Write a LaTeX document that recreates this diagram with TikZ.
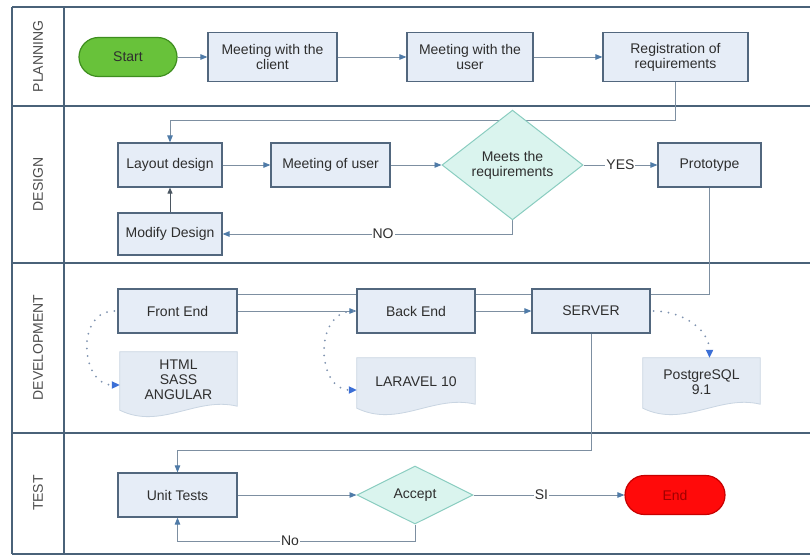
\documentclass[tikz,border=0pt]{standalone}
\usepackage{fontspec}
\setmainfont{Liberation Sans}
\usetikzlibrary{shapes.geometric,arrows.meta,calc,backgrounds}

\definecolor{boxfill}{HTML}{E6EDF7}
\definecolor{boxline}{HTML}{52677E}
\definecolor{flowline}{HTML}{7D8FA1}
\definecolor{arrowblue}{HTML}{4F7BA8}
\definecolor{lanecol}{HTML}{4A6279}
\definecolor{decfill}{HTML}{DAF4EE}
\definecolor{decline}{HTML}{8ACDC0}
\definecolor{docfill}{HTML}{E4EBF4}
\definecolor{docline}{HTML}{C9D5E2}
\definecolor{dotblue}{HTML}{3C6FD6}
\definecolor{dotgray}{HTML}{7F93B0}
\definecolor{startfill}{HTML}{68C23A}
\definecolor{startline}{HTML}{3E8E1E}
\definecolor{endfill}{HTML}{FF0A0A}
\definecolor{endline}{HTML}{C80000}
\definecolor{inkgray}{HTML}{2E2E2E}

\tikzset{
  lanerule/.style={draw=lanecol, line width=2pt},
  lanelabel/.style={rotate=90, text=inkgray!85, inner sep=0pt},
  procbox/.style={rectangle, draw=boxline, line width=1.2pt, fill=boxfill,
    align=center, inner sep=2pt, text=inkgray, minimum height=44pt},
  decision/.style={diamond, draw=decline, line width=1pt, fill=decfill,
    align=center, inner sep=0pt, text=inkgray},
  terminal/.style={rectangle, rounded corners=19.5pt, line width=1.2pt,
    minimum width=98pt, minimum height=39pt},
  docbody/.style={rectangle, align=center, inner sep=0pt, text=inkgray},
  docshape/.style={fill=docfill, draw=docline, line width=0.8pt},
  flow/.style={draw=flowline, line width=0.9pt,
    -{Triangle[length=7pt,width=5.5pt,color=arrowblue]}},
  plainflow/.style={draw=flowline, line width=0.9pt},
  dotflow/.style={draw=dotgray, line width=2pt, line cap=round,
    dash pattern=on 0pt off 7.5pt,
    -{Triangle[length=8pt,width=7pt,color=dotblue]}},
  tag/.style={fill=white, inner sep=1pt, text=inkgray}
}

\begin{document}
\begin{tikzpicture}[x=1pt,y=-1pt,font=\fontsize{14}{15}\selectfont]
\useasboundingbox (0,0) rectangle (810,556);

% ---- nodes: planning lane ----
\node[terminal, fill=startfill, draw=startline, text=inkgray] (start) at (128,57) {Start};
\node[procbox, minimum width=129pt, minimum height=49pt] (client) at (272.5,57) {Meeting with the\\client};
\node[procbox, minimum width=126pt, minimum height=49pt] (user) at (470,57) {Meeting with the\\user};
\node[procbox, minimum width=145pt, minimum height=49pt] (reg) at (675.5,57) {Registration of\\requirements};

% ---- nodes: design lane ----
\node[procbox, minimum width=104pt] (lay) at (170,165) {Layout design};
\node[procbox, minimum width=119pt] (mou) at (330.5,165) {Meeting of user};
\node[decision, minimum width=141pt, minimum height=80pt] (meets) at (512.5,165) {Meets the\\requirements};
\node[procbox, minimum width=103pt] (proto) at (709.5,165) {Prototype};
\node[procbox, minimum width=104pt, minimum height=42pt] (mod) at (170,234) {Modify Design};

% ---- nodes: development lane ----
\node[procbox, minimum width=119pt] (fe) at (177.5,311) {Front End};
\node[procbox, minimum width=118pt] (be) at (416,311) {Back End};
\node[procbox, minimum width=118pt] (srv) at (591,311) {SERVER};
\node[docbody, minimum width=117pt, minimum height=56pt] (html) at (178.5,380) {HTML\\SASS\\ANGULAR};
\node[docbody, minimum width=118pt, minimum height=48pt] (lara) at (416,382) {LARAVEL 10};
\node[docbody, minimum width=117pt, minimum height=48pt] (pg) at (701.5,382) {PostgreSQL\\9.1};

% ---- nodes: test lane ----
\node[procbox, minimum width=119pt] (ut) at (177.5,495) {Unit Tests};
\node[decision, minimum width=116pt, minimum height=58pt] (acc) at (415,495) {Accept};
\node[terminal, minimum width=100pt, fill=endfill, draw=endline, text=endline!80!black] (fin) at (675,495) {End};

\begin{pgfonlayer}{background}
  \fill[white] (0,0) rectangle (810,556);

  % swimlane frame
  \draw[lanerule] (12,7) -- (810,7);
  \draw[lanerule] (12,106.5) -- (810,106.5);
  \draw[lanerule] (12,262.5) -- (810,262.5);
  \draw[lanerule] (12,432.5) -- (810,432.5);
  \draw[lanerule] (12,554) -- (810,554);
  \draw[lanerule] (12,7) -- (12,554);
  \draw[lanerule] (64,7) -- (64,554);

  % document shapes with wavy lower edge
  \foreach \d in {html,lara,pg}{
    \path[docshape] (\d.north west) -- (\d.north east) -- ($(\d.south east)+(0,-2)$)
      .. controls ($(\d.south east)!0.35!(\d.south west)+(0,-12)$)
      and ($(\d.south east)!0.65!(\d.south west)+(0,22)$) .. ($(\d.south west)+(0,2)$)
      -- cycle;
  }

  % connectors
  \draw[flow] (start) -- (client);
  \draw[flow] (client) -- (user);
  \draw[flow] (user) -- (reg);
  \draw[flow] (reg.south) -- ++(0,38) -| (lay.north);
  \draw[flow] (lay) -- (mou);
  \draw[flow] (mou) -- (meets);
  \draw[flow] (meets) -- node[tag]{YES} (proto);
  \draw[flow] (meets.south) |- (mod.east);
  \node[tag] (nolbl) at (383,234) {NO};
  \draw[draw=flowline!60!black, line width=0.9pt, -{Triangle[length=6pt,width=5pt]}] (mod) -- (lay);

  \draw[plainflow] (proto.south) |- ($(fe.north east)+(0,6)$);
  \draw[flow] (fe) -- (be);
  \draw[flow] (be) -- (srv);
  \draw[flow] (srv.south) -- ++(0,117) -| (ut.north);

  \draw[flow] (ut) -- (acc);
  \draw[flow] (acc) -- node[tag, pos=0.45]{SI} (fin);
  \draw[flow] (acc.south) -- ++(0,17) -| (ut.south);
  \node[tag] (nolbl2) at (290,541) {No};
\end{pgfonlayer}

% dotted links to the technology documents
\draw[dotflow] ($(fe.west)+(-3,0)$) to[out=180,in=180,looseness=1.35] ($(html.west)+(0,5)$);
\draw[dotflow] ($(be.west)+(-3,0)$) to[out=180,in=180,looseness=1.3] ($(lara.west)+(0,8)$);
\draw[dotflow] ($(srv.east)+(3,0)$) to[out=0,in=90] ($(pg.north)+(8,0)$);

% lane titles
\node[lanelabel] (lplan) at (38,56.5) {PLANNING};
\node[lanelabel] (ldes) at (38,184.5) {DESIGN};
\node[lanelabel] (ldev) at (38,347.5) {DEVELOPMENT};
\node[lanelabel] (ltest) at (38,493) {TEST};
\end{tikzpicture}
\end{document}
